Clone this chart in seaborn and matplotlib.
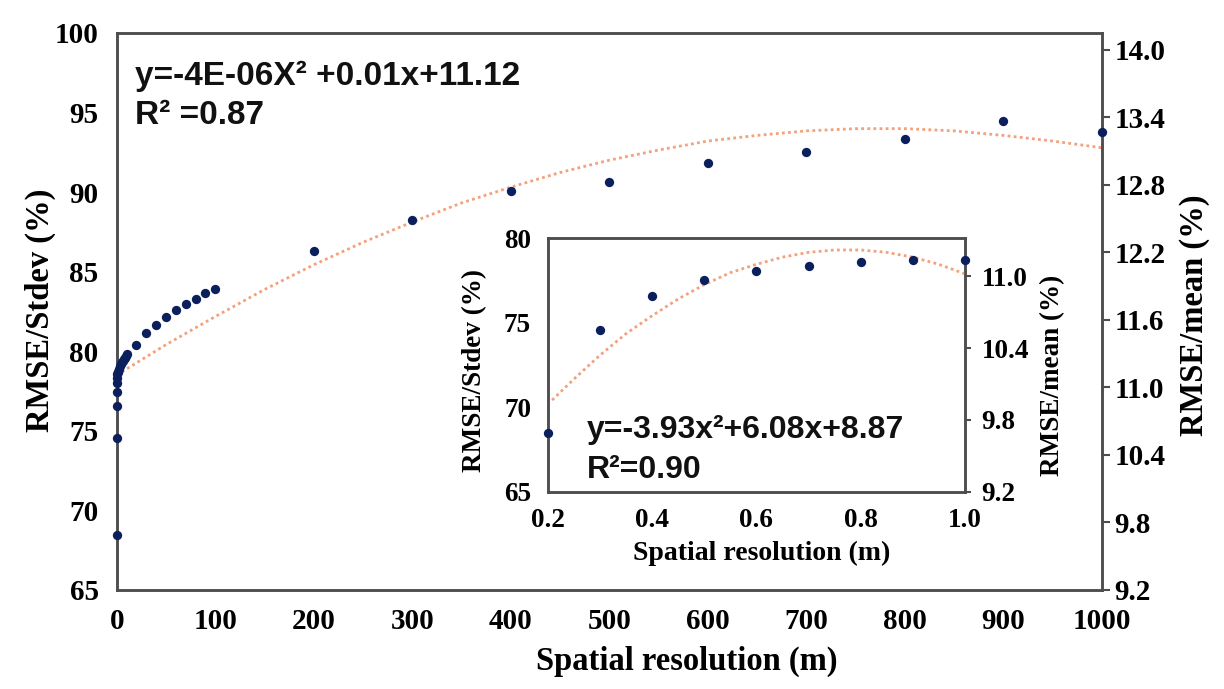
import matplotlib
matplotlib.use("Agg")
import matplotlib.pyplot as plt
import seaborn as sns
import numpy as np
import pandas as pd

# ---------------- data ----------------
# main chart: spatial resolution (m) vs RMSE/Stdev (%)
main_res = [0.2, 0.3, 0.4, 0.5, 0.6, 0.7, 0.8, 0.9, 1.0,
            2, 3, 4, 5, 6, 7, 8, 9, 10,
            20, 30, 40, 50, 60, 70, 80, 90, 100,
            200, 300, 400, 500, 600, 700, 800, 900, 1000]
main_stdev = [68.45, 74.55, 76.55, 77.45, 78.0, 78.3, 78.55, 78.7, 78.7,
              78.9, 79.05, 79.2, 79.3, 79.4, 79.5, 79.6, 79.7, 79.85,
              80.40, 81.13, 81.67, 82.18, 82.60, 82.97, 83.31, 83.64, 83.91,
              86.30, 88.25, 90.05, 90.62, 91.86, 92.52, 93.32, 94.45, 93.78]
# main trend line (right axis, RMSE/mean %)
main_trend_x = [0, 50, 100, 150, 200, 250, 300, 350, 400, 450, 500,
                550, 600, 650, 700, 750, 800, 850, 900, 950, 1000]
main_trend_y = [11.11, 11.38, 11.63, 11.87, 12.09, 12.29, 12.47, 12.64, 12.78, 12.91, 13.02,
                13.11, 13.19, 13.24, 13.28, 13.30, 13.30, 13.28, 13.24, 13.19, 13.13]

# inset chart
inset_res = [0.2, 0.3, 0.4, 0.5, 0.6, 0.7, 0.8, 0.9, 1.0]
inset_stdev = [68.45, 74.57, 76.57, 77.49, 78.03, 78.34, 78.56, 78.70, 78.70]
inset_trend_x = [0.20, 0.25, 0.30, 0.35, 0.40, 0.45, 0.50, 0.55, 0.60,
                 0.65, 0.70, 0.75, 0.80, 0.85, 0.90, 0.95, 1.00]
inset_trend_y = [9.93, 10.14, 10.34, 10.52, 10.67, 10.81, 10.93, 11.03, 11.10,
                 11.16, 11.20, 11.22, 11.22, 11.20, 11.16, 11.10, 11.02]

main_xticks = [0, 100, 200, 300, 400, 500, 600, 700, 800, 900, 1000]
main_left_ticks = [65, 70, 75, 80, 85, 90, 95, 100]
main_right_ticks = [9.2, 9.8, 10.4, 11.0, 11.6, 12.2, 12.8, 13.4, 14.0]
inset_xticks = [0.2, 0.4, 0.6, 0.8, 1.0]
inset_left_ticks = [65, 70, 75, 80]
inset_right_ticks = [9.2, 9.8, 10.4, 11.0]

main_eq = ["y=-4E-06X\u00b2 +0.01x+11.12", "R\u00b2 =0.87"]
inset_eq = ["y=-3.93x\u00b2+6.08x+8.87", "R\u00b2=0.90"]

# ---------------- style ----------------
sns.set_style("white")
plt.rcParams["font.family"] = ["Liberation Serif", "DejaVu Serif"]
plt.rcParams["font.weight"] = "bold"
plt.rcParams["text.color"] = "black"
plt.rcParams["xtick.color"] = "black"
plt.rcParams["ytick.color"] = "black"
plt.rcParams["axes.labelcolor"] = "black"

DOT = "#0b1f5c"
TREND = "#f4a07a"
SPINE = "#4d4d4d"

fig = plt.figure(figsize=(12.24, 6.89), dpi=100)

W, H = 1224.0, 689.0
def rect(l, t, r, b):
    return [l / W, 1 - b / H, (r - l) / W, (b - t) / H]

# ---------------- main axes ----------------
ax = fig.add_axes(rect(116.7, 33, 1102, 590))
ax2 = ax.twinx()

df_main = pd.DataFrame({"res": main_res, "stdev": main_stdev})
df_mtr = pd.DataFrame({"x": main_trend_x, "y": main_trend_y})

sns.lineplot(data=df_mtr, x="x", y="y", ax=ax2, color=TREND, lw=2.0,
             linestyle=(0, (1, 1.2)), zorder=2)
sns.scatterplot(data=df_main, x="res", y="stdev", ax=ax, color=DOT, s=45,
                edgecolor=DOT, linewidth=0, zorder=3, clip_on=False)
ax.set_zorder(ax2.get_zorder() + 1)
ax.patch.set_visible(False)

ax.set_xlim(0, 1000)
ax.set_ylim(65, 100)
ax2.set_ylim(9.2, 14.15)
ax.set_xticks(main_xticks)
ax.set_xticklabels([str(t) for t in main_xticks])
ax.set_yticks(main_left_ticks)
ax.set_yticklabels([str(t) for t in main_left_ticks])
ax2.set_yticks(main_right_ticks)
ax2.set_yticklabels([f"{t:.1f}" for t in main_right_ticks])

ax.tick_params(axis="x", length=0, pad=13, labelsize=21)
ax.tick_params(axis="y", length=0, pad=13, labelsize=21)
ax2.tick_params(axis="y", length=6, width=1.5, color=SPINE, direction="out",
                pad=3, labelsize=21)
for a in (ax, ax2):
    for s in a.spines.values():
        s.set_color(SPINE)
        s.set_linewidth(1.8)
    for lab in a.get_xticklabels() + a.get_yticklabels():
        lab.set_fontweight("bold")

ax.set_xlabel("Spatial resolution (m)", fontsize=23.5, fontweight="bold")
ax.xaxis.set_label_coords((687 - 116.7) / 985.3, (590 - 661) / 557)
ax.xaxis.label.set_verticalalignment("center")
ax.set_ylabel("RMSE/Stdev (%)", fontsize=23.5, fontweight="bold")
ax.yaxis.set_label_coords((40 - 116.7) / 985.3, (590 - 310) / 557)
ax.yaxis.label.set_verticalalignment("center")
ax2.set_ylabel("RMSE/mean (%)", fontsize=23.5, fontweight="bold", rotation=90)
ax2.yaxis.set_label_coords((1195 - 116.7) / 985.3, (590 - 315) / 557)
ax2.yaxis.label.set_verticalalignment("center")

eqfont = dict(family=["Liberation Sans", "DejaVu Sans"], fontweight="bold", fontsize=24)
ax.text((135 - 116.7) / 985.3, (590 - 85) / 557, main_eq[0], transform=ax.transAxes,
        ha="left", va="baseline", color="#111111", **eqfont)
ax.text((135 - 116.7) / 985.3, (590 - 124) / 557, main_eq[1], transform=ax.transAxes,
        ha="left", va="baseline", color="#111111", **eqfont)

# ---------------- inset axes ----------------
axi = fig.add_axes(rect(547.7, 238, 965, 491.7))
axi2 = axi.twinx()

df_in = pd.DataFrame({"res": inset_res, "stdev": inset_stdev})
df_itr = pd.DataFrame({"x": inset_trend_x, "y": inset_trend_y})

axi2.set_zorder(axi.get_zorder() + 1)
sns.lineplot(data=df_itr, x="x", y="y", ax=axi2, color=TREND, lw=2.0,
             linestyle=(0, (1, 1.2)), zorder=2)
axi.set_facecolor("white")
axi2.patch.set_visible(False)
sns.scatterplot(data=df_in, x="res", y="stdev", ax=axi2, color=DOT, s=45,
                edgecolor=DOT, linewidth=0, zorder=3, clip_on=False,
                transform=axi.transData)

axi.set_xlim(0.2, 1.0)
axi.set_ylim(65, 80)
axi2.set_ylim(9.2, 11.32)
axi.set_xticks(inset_xticks)
axi.set_xticklabels([f"{t:.1f}" for t in inset_xticks])
axi.set_yticks(inset_left_ticks)
axi.set_yticklabels([str(t) for t in inset_left_ticks])
axi2.set_yticks(inset_right_ticks)
axi2.set_yticklabels([f"{t:.1f}" for t in inset_right_ticks])

axi.tick_params(axis="x", length=0, pad=12, labelsize=19.5)
axi.tick_params(axis="y", length=0, pad=12, labelsize=19.5)
axi2.tick_params(axis="y", length=4, width=1.5, color=SPINE, direction="out",
                 pad=8, labelsize=19.5)
for a in (axi, axi2):
    for s in a.spines.values():
        s.set_color(SPINE)
        s.set_linewidth(1.8)
    for lab in a.get_xticklabels() + a.get_yticklabels():
        lab.set_fontweight("bold")

axi.set_xlabel("Spatial resolution (m)", fontsize=20, fontweight="bold")
axi.xaxis.set_label_coords((762 - 547.7) / 417.3, (491.7 - 553) / 253.7)
axi.xaxis.label.set_verticalalignment("center")
axi.set_ylabel("RMSE/Stdev (%)", fontsize=19.5, fontweight="bold")
axi.yaxis.set_label_coords((475 - 547.7) / 417.3, (491.7 - 370) / 253.7)
axi.yaxis.label.set_verticalalignment("center")
axi2.set_ylabel("RMSE/mean (%)", fontsize=19.5, fontweight="bold", rotation=90)
axi2.yaxis.set_label_coords((1053 - 547.7) / 417.3, (491.7 - 375) / 253.7)
axi2.yaxis.label.set_verticalalignment("center")

ieqfont = dict(family=["Liberation Sans", "DejaVu Sans"], fontweight="bold", fontsize=23)
axi.text((587 - 547.7) / 417.3, (491.7 - 438) / 253.7, inset_eq[0], transform=axi.transAxes,
         ha="left", va="baseline", color="#111111", zorder=5, **ieqfont)
axi.text((587 - 547.7) / 417.3, (491.7 - 478) / 253.7, inset_eq[1], transform=axi.transAxes,
         ha="left", va="baseline", color="#111111", zorder=5, **ieqfont)

fig.savefig("out.png", dpi=100)
